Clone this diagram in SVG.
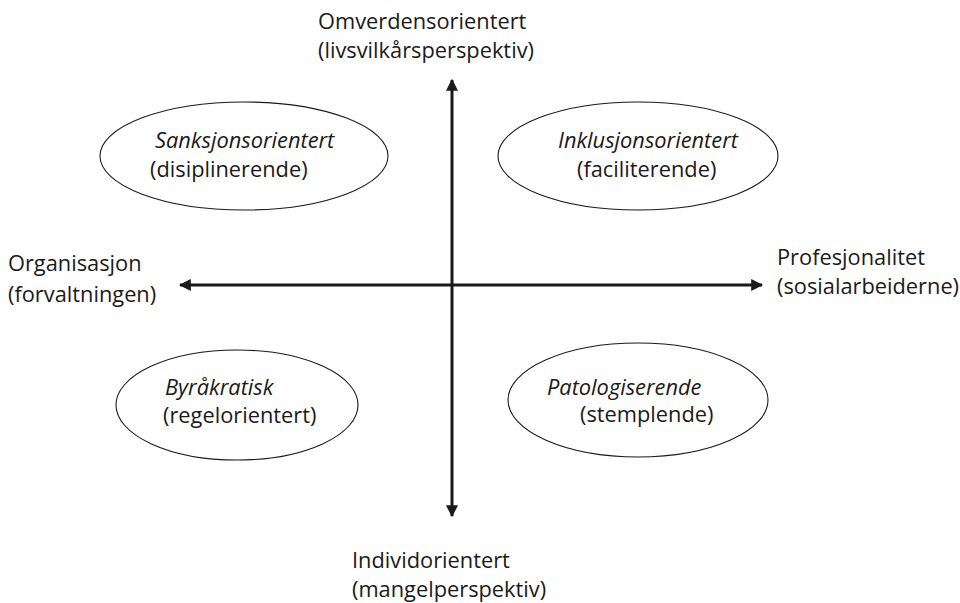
<svg xmlns="http://www.w3.org/2000/svg" width="960" height="603" viewBox="0 0 960 603">
<defs>
<style>
text{font-family:"Open Sans",Lato,"Liberation Sans",sans-serif;font-size:21.8px;fill:#1a1a1a}
.i{font-style:italic}
.e{fill:#fff;stroke:#1a1a1a;stroke-width:1.1}
.ax{stroke:#1a1a1a;stroke-width:3;fill:none}
</style>
<marker id="ah" viewBox="0 0 10 10" refX="9" refY="5" markerWidth="4" markerHeight="4" orient="auto-start-reverse" markerUnits="strokeWidth">
<path d="M0,0 L10,5 L0,10 z" fill="#1a1a1a"/>
</marker>
</defs>
<rect width="960" height="603" fill="#fff"/>
<g id="connectors">
<line class="ax" x1="452" y1="80" x2="452" y2="516" marker-start="url(#ah)" marker-end="url(#ah)"/>
<line class="ax" x1="180" y1="285" x2="762" y2="285" marker-start="url(#ah)" marker-end="url(#ah)"/>
</g>
<g id="sanksjon">
<ellipse class="e" cx="244" cy="156" rx="144" ry="54"/>
<text x="155" y="148" class="i">Sanksjonsorientert</text>
<text x="150" y="177">(disiplinerende)</text>
</g>
<g id="inklusjon">
<ellipse class="e" cx="638" cy="156" rx="140" ry="54"/>
<text x="558" y="148" class="i">Inklusjonsorientert</text>
<text x="577" y="177">(faciliterende)</text>
</g>
<g id="byrakratisk">
<ellipse class="e" cx="237" cy="405" rx="121" ry="55"/>
<text x="165" y="395" class="i">Byråkratisk</text>
<text x="163" y="423">(regelorientert)</text>
</g>
<g id="patologiserende">
<ellipse class="e" cx="638" cy="400" rx="130" ry="57"/>
<text x="547" y="395" class="i">Patologiserende</text>
<text x="580" y="422">(stemplende)</text>
</g>
<g id="omverden">
<text x="318" y="29">Omverdensorientert</text>
<text x="318" y="58">(livsvilkårsperspektiv)</text>
</g>
<g id="organisasjon">
<text x="8" y="271">Organisasjon</text>
<text x="8" y="302">(forvaltningen)</text>
</g>
<g id="profesjonalitet">
<text x="777" y="265">Profesjonalitet</text>
<text x="777" y="294">(sosialarbeiderne)</text>
</g>
<g id="individ">
<text x="352" y="568">Individorientert</text>
<text x="352" y="597">(mangelperspektiv)</text>
</g>
</svg>
